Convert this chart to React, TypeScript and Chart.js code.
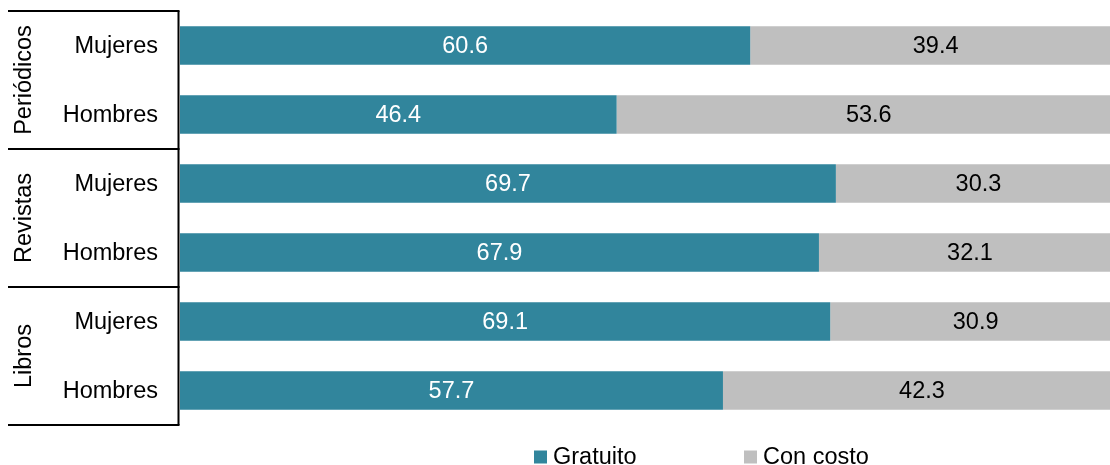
import React, { useEffect, useRef } from "react";
import { Chart, registerables } from "chart.js";

Chart.register(...registerables);

const rowLabels = ["Mujeres", "Hombres", "Mujeres", "Hombres", "Mujeres", "Hombres"];
const groupLabels = ["Periódicos", "Revistas", "Libros"];
const gratuito = [60.6, 46.4, 69.7, 67.9, 69.1, 57.7];
const conCosto = [39.4, 53.6, 30.3, 32.1, 30.9, 42.3];
const seriesNames = ["Gratuito", "Con costo"];
const seriesColors = ["#31859C", "#BFBFBF"];
const labelColors = ["#FFFFFF", "#000000"];

const FONT = '"Liberation Sans", Arial, sans-serif';
const FS = 23.5;

const customPlugin = {
  id: "custom",
  afterDatasetsDraw(chart: any) {
    const ctx = chart.ctx;
    const ys = chart.scales.y;
    const area = chart.chartArea;
    ctx.save();
    // data labels
    ctx.font = `${FS}px ${FONT}`;
    ctx.textAlign = "center";
    ctx.textBaseline = "middle";
    chart.data.datasets.forEach((ds: any, di: number) => {
      const meta = chart.getDatasetMeta(di);
      meta.data.forEach((el: any, i: number) => {
        const p = el.getProps(["x", "y", "base"], true);
        ctx.fillStyle = labelColors[di];
        ctx.fillText(String(ds.data[i].toFixed(1)), (p.x + p.base) / 2, p.y + 1);
      });
    });
    // row labels
    ctx.fillStyle = "#000";
    ctx.textAlign = "right";
    rowLabels.forEach((lab, i) => {
      ctx.fillText(lab, 158, ys.getPixelForValue(i) + 1);
    });
    // separator lines & axis line
    ctx.strokeStyle = "#000";
    ctx.lineWidth = 2;
    const axisX = area.left - 1.5;
    ctx.beginPath();
    ctx.moveTo(axisX, area.top);
    ctx.lineTo(axisX, area.bottom);
    ctx.stroke();
    const bounds: number[] = [area.top];
    for (let g = 1; g < groupLabels.length; g++) {
      bounds.push((ys.getPixelForValue(g * 2 - 1) + ys.getPixelForValue(g * 2)) / 2);
    }
    bounds.push(area.bottom);
    bounds.forEach((yy) => {
      ctx.beginPath();
      ctx.moveTo(8, yy);
      ctx.lineTo(axisX + 1, yy);
      ctx.stroke();
    });
    // group labels
    ctx.textAlign = "center";
    groupLabels.forEach((g, i) => {
      const cy = (bounds[i] + bounds[i + 1]) / 2;
      ctx.save();
      ctx.translate(25, cy);
      ctx.rotate(-Math.PI / 2);
      ctx.fillText(g, 0, 0);
      ctx.restore();
    });
    // legend
    const legendX = [534, 744];
    const ly = 457;
    seriesNames.forEach((n, i) => {
      ctx.fillStyle = seriesColors[i];
      ctx.fillRect(legendX[i], ly - 6.5, 13, 13);
      ctx.fillStyle = "#000";
      ctx.textAlign = "left";
      ctx.fillText(n, legendX[i] + 19, ly + 1);
    });
    ctx.restore();
  },
};

export default function App() {
  const ref = useRef<HTMLCanvasElement | null>(null);
  useEffect(() => {
    if (!ref.current) return;
    const chart = new Chart(ref.current, {
      type: "bar",
      data: {
        labels: rowLabels,
        datasets: [
          { label: seriesNames[0], data: gratuito, backgroundColor: seriesColors[0] },
          { label: seriesNames[1], data: conCosto, backgroundColor: seriesColors[1] },
        ],
      },
      options: {
        indexAxis: "y",
        responsive: true,
        maintainAspectRatio: false,
        animation: false,
        layout: { padding: { left: 180, top: 11, right: 9, bottom: 40 } },
        datasets: { bar: { categoryPercentage: 1, barPercentage: 0.56 } },
        scales: {
          x: { stacked: true, min: 0, max: 100, display: false },
          y: { stacked: true, display: false },
        },
        plugins: { legend: { display: false }, tooltip: { enabled: false } },
      },
      plugins: [customPlugin],
    } as any);
    return () => chart.destroy();
  }, []);
  return (
    <div style={{ position: "absolute", left: 0, top: 0, width: 1110, height: 465, overflow: "hidden", background: "#fff" }}>
      <div style={{ position: "relative", width: 1130, height: 465 }}>
        <canvas ref={ref} />
      </div>
    </div>
  );
}
